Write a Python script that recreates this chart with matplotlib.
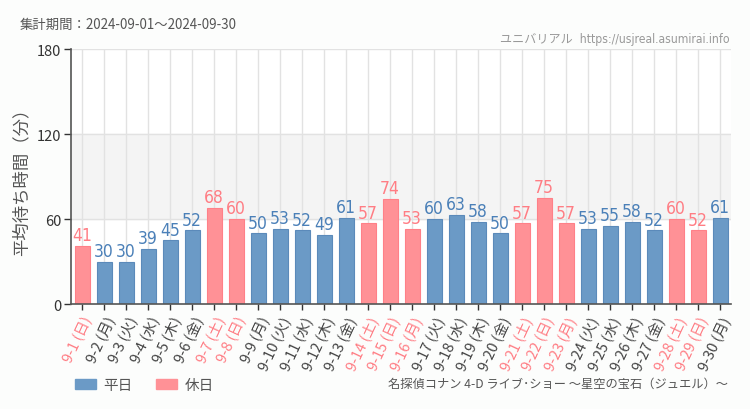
import matplotlib.pyplot as plt
import matplotlib.patches as mpatches

plt.rcParams['font.family'] = ['Noto Sans CJK JP', 'DejaVu Sans']

dates = ['9-1', '9-2', '9-3', '9-4', '9-5', '9-6', '9-7', '9-8', '9-9', '9-10',
         '9-11', '9-12', '9-13', '9-14', '9-15', '9-16', '9-17', '9-18', '9-19', '9-20',
         '9-21', '9-22', '9-23', '9-24', '9-25', '9-26', '9-27', '9-28', '9-29', '9-30']
weekdays = ['日', '月', '火', '水', '木', '金', '土', '日', '月', '火',
            '水', '木', '金', '土', '日', '月', '火', '水', '木', '金',
            '土', '日', '月', '火', '水', '木', '金', '土', '日', '月']
wait_min = [41, 30, 30, 39, 45, 52, 68, 60, 50, 53,
            52, 49, 61, 57, 74, 53, 60, 63, 58, 50,
            57, 75, 57, 53, 55, 58, 52, 60, 52, 61]
holiday = [1, 0, 0, 0, 0, 0, 1, 1, 0, 0,
           0, 0, 0, 1, 1, 1, 0, 0, 0, 0,
           1, 1, 1, 0, 0, 0, 0, 1, 1, 0]

BLUE = '#6b9ac6'
BLUE_EDGE = '#5b8aba'
BLUE_TXT = '#4b80b8'
PINK = '#ff9196'
PINK_EDGE = '#ff8088'
PINK_TXT = '#ff7d84'
TICK_TXT = '#444444'

fig = plt.figure(figsize=(7.5, 4.1), dpi=100)
fig.patch.set_facecolor('#fcfdfc')
ax = fig.add_axes([0.0947, 0.256, 0.88, 0.622])
ax.set_facecolor('white')

x = list(range(len(dates)))
ax.axhspan(60, 120, color='#f4f4f4', zorder=0)
for xi in x:
    ax.axvline(xi, color='#e2e2e2', lw=1, zorder=1)
for yv in (60, 120, 180):
    ax.axhline(yv, color='#e2e2e2', lw=1, zorder=1)

colors = [PINK if h else BLUE for h in holiday]
edges = [PINK_EDGE if h else BLUE_EDGE for h in holiday]
ax.bar(x, wait_min, width=0.68, color=colors, edgecolor=edges, linewidth=0.8, zorder=2)

for xi, v, h in zip(x, wait_min, holiday):
    ax.text(xi, v + 1.2, str(v), ha='center', va='bottom', fontsize=12.5,
            family='DejaVu Sans', stretch='condensed',
            color=PINK_TXT if h else BLUE_TXT, zorder=3)

ax.set_xlim(-0.5, len(dates) - 0.5)
ax.set_ylim(0, 180)
ax.set_yticks([0, 60, 120, 180])
ax.tick_params(axis='y', labelsize=10.5, colors='#333333', length=5, width=1, pad=2)
ax.tick_params(axis='x', length=4, width=1, colors='#333333', pad=3)
ax.set_xticks(x)
ax.set_xticklabels([f'{d} ({w})' for d, w in zip(dates, weekdays)],
                   rotation=65, ha='right', va='top', rotation_mode='anchor', fontsize=10.5)
for lbl, h in zip(ax.get_xticklabels(), holiday):
    lbl.set_color(PINK_TXT if h else TICK_TXT)
for lbl in ax.get_yticklabels():
    lbl.set_color('#333333')

for s in ('top', 'right'):
    ax.spines[s].set_visible(False)
for s in ('left', 'bottom'):
    ax.spines[s].set_color('#555555')
    ax.spines[s].set_linewidth(1.2)

ax.set_ylabel('平均待ち時間（分）', fontsize=12.5, color='#555555', labelpad=3)
ax.yaxis.set_label_coords(-0.062, 0.5)

fig.text(20 / 750, 1 - 25 / 410, '集計期間：2024-09-01～2024-09-30', fontsize=9.6,
         color='#555555', va='center', ha='left')
fig.text(730 / 750, 1 - 40 / 410, 'ユニバリアル  https://usjreal.asumirai.info', fontsize=8.7,
         color='#999999', va='center', ha='right', stretch='condensed',
         family=['DejaVu Sans', 'Noto Sans CJK JP'])
fig.text(728 / 750, 1 - 384 / 410, '名探偵コナン 4-D ライブ･ショー ～星空の宝石（ジュエル）～', fontsize=8.8,
         color='#555555', va='center', ha='right')

handles = [mpatches.Patch(color=BLUE, label='平日'), mpatches.Patch(color=PINK, label='休日')]
fig.legend(handles=handles, loc='center left', bbox_to_anchor=(62 / 750, 1 - 386 / 410),
           ncol=2, frameon=False, fontsize=10.5, handlelength=1.45, handleheight=0.75,
           columnspacing=1.6, handletextpad=0.5, labelcolor='#555555')

fig.savefig('out.png', dpi=100, facecolor=fig.get_facecolor())
